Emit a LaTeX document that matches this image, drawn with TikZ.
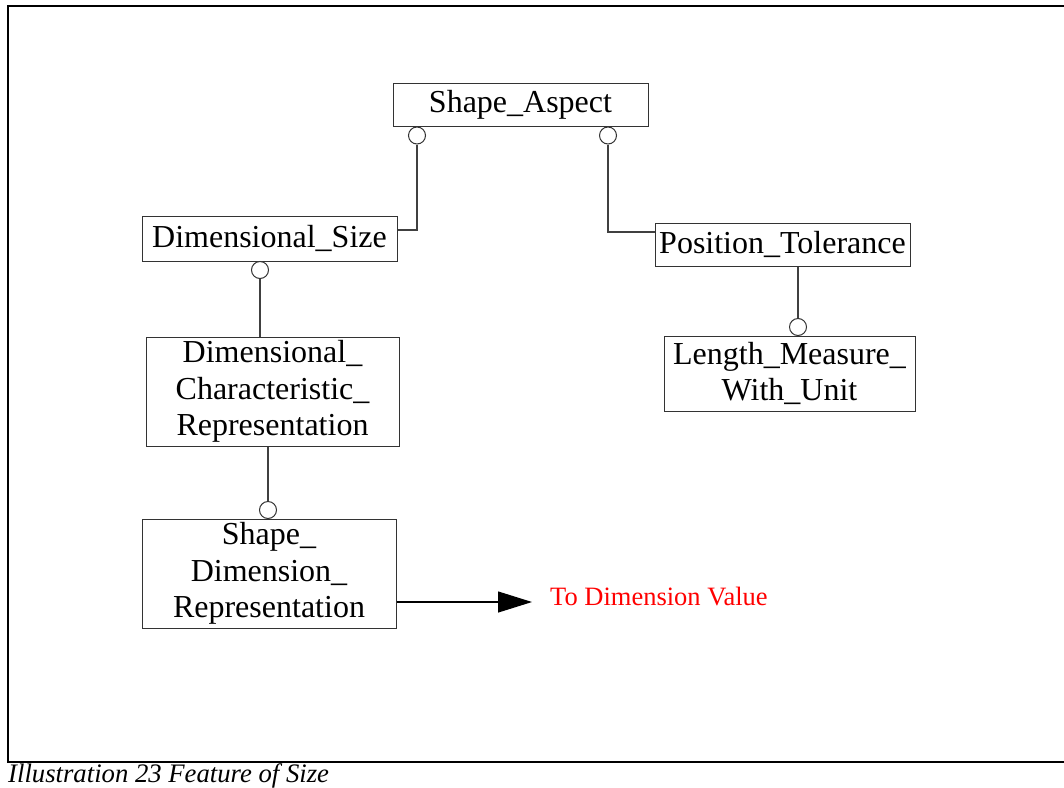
\documentclass[tikz,border=0pt]{standalone}
\usepackage{fontspec}
\setmainfont{Liberation Serif}
\usetikzlibrary{arrows.meta}
\begin{document}
\begin{tikzpicture}[x=1pt,y=-1pt,
  entity/.style={draw=black!80,line width=1pt,fill=white,inner sep=0pt,align=center,
    font=\fontsize{32}{36.5}\selectfont},
  opt/.style={draw=black!80,line width=1pt,circle,minimum size=17pt,inner sep=0pt,fill=white},
  link/.style={draw=black!75,line width=1.3pt}]
\useasboundingbox (0,0) rectangle (1064,787);
% frame
\draw[line width=1.6pt] (1066,6) -- (8,6) -- (8,762) -- (1066,762);
\node[anchor=base west,inner sep=0pt,font=\fontsize{26.7}{30}\selectfont\itshape] (cap) at (8,782) {Illustration 23 Feature of Size};
% entities
\node[entity,minimum width=255pt,minimum height=43pt] (SA) at (520.5,104.5) {Shape\_Aspect};
\node[entity,minimum width=255pt,minimum height=45pt] (DS) at (269.5,238.5) {Dimensional\_Size};
\node[entity,minimum width=253pt,minimum height=109pt] (DCR) at (272.5,391.5) {Dimensional\_\\Characteristic\_\\Representation};
\node[entity,minimum width=254pt,minimum height=109pt] (SDR) at (269,573.5) {Shape\_\\Dimension\_\\Representation};
\node[entity,minimum width=255pt,minimum height=43pt] (PT) at (782.5,244.5) {Position\_Tolerance};
\node[entity,minimum width=251pt,minimum height=75pt] (LMWU) at (789.5,373.5) {Length\_Measure\_\\With\_Unit};
% optional circles
\node[opt] (c1) at (417,135.5) {};
\node[opt] (c2) at (608,135.5) {};
\node[opt] (c3) at (260,270) {};
\node[opt] (c4) at (268,510) {};
\node[opt] (c5) at (798,327) {};
% connectors
\draw[link] (c1.south) |- ([yshift=8.5pt]DS.east);
\draw[link] (c2.south) |- ([yshift=12.5pt]PT.west);
\draw[link] (c3.south) -- (c3.south |- DCR.north);
\draw[link] (c4.north |- DCR.south) -- (c4.north);
\draw[link] (c5.north |- PT.south) -- (c5.north);
\coordinate (tip) at (532,602);
\draw[line width=1.2pt,-{Triangle[length=34pt,width=21pt]}] ([yshift=-28.5pt]SDR.east) -- (tip);
\node[anchor=west,inner sep=0pt,text=red,font=\fontsize{26.5}{30}\selectfont] (dv) at (550,596) {To Dimension Value};
\end{tikzpicture}
\end{document}
